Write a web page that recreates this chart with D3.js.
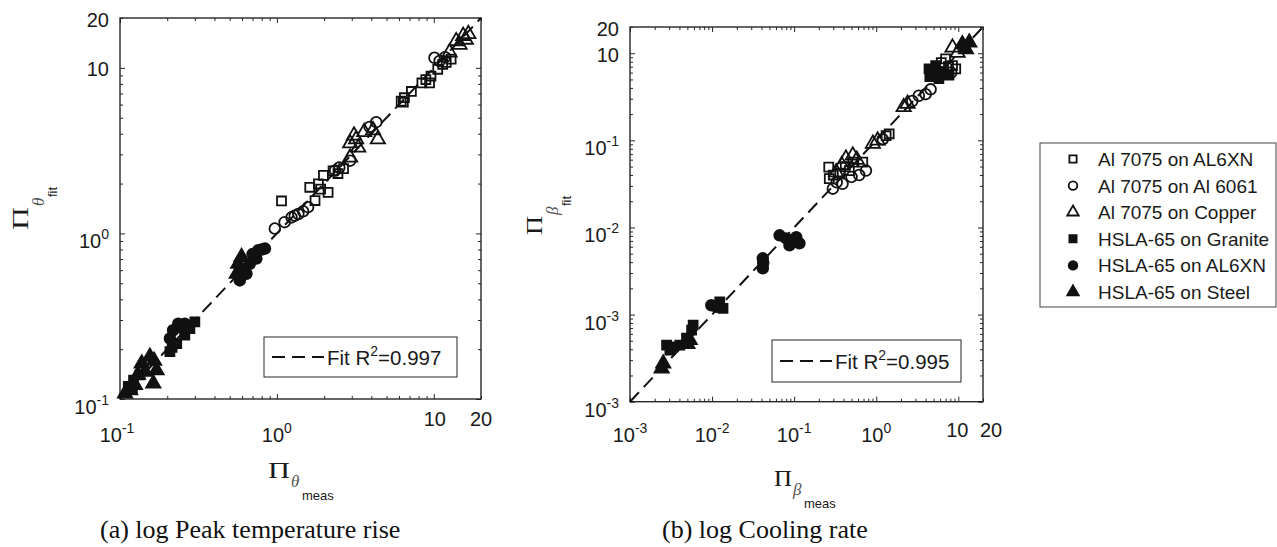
<!DOCTYPE html>
<html>
<head>
<meta charset="utf-8">
<script src="https://cdn.jsdelivr.net/npm/d3@7"></script>
<style>
body { margin: 0; background: #fff; }
text { font-family: "Liberation Sans", Arial, sans-serif; fill: #1a1a1a; }
.serif { font-family: "Liberation Serif", "Times New Roman", serif; }
</style>
</head>
<body>
<svg id="fig" width="1277" height="547"></svg>
<script>

// series names / marker styles (same order in both panels)
var seriesNames = ["Al 7075 on AL6XN", "Al 7075 on Al 6061", "Al 7075 on Copper",
                   "HSLA-65 on Granite", "HSLA-65 on AL6XN", "HSLA-65 on Steel"];
var seriesShapes = ["square", "circle", "triangle", "square", "circle", "triangle"];
var seriesFilled = [false, false, false, true, true, true];

// (a) peak temperature rise, [meas, fit]
var thetaAl6XN = [[1.07,1.57],[1.62,1.90],[1.84,1.99],[2.12,1.77],[1.75,1.58],[1.98,2.24],[2.28,2.39],
  [2.66,2.46],[2.45,2.30],[1.9,1.85],[6.2,6.3],[6.5,6.6],[7.2,7.2],[8.4,8.1],[8.9,8.5],[9.6,8.9],[9.4,8.1],
  [10.6,9.8],[11.4,10.5],[12.9,11.3],[12.0,10.8],[6.4,6.2]];
var thetaAl6061 = [[0.97,1.07],[1.12,1.17],[1.24,1.25],[1.30,1.28],[1.37,1.31],[1.47,1.36],[1.58,1.44],
  [2.35,2.40],[2.50,2.50],[2.93,2.75],[3.9,4.4],[4.3,4.7],[10.1,11.5],[10.9,11.0],[11.8,11.6]];
var thetaCopper = [[2.93,2.87],[2.93,3.5],[3.2,3.7],[3.6,4.1],[4.1,4.2],[4.4,3.7],[3.3,3.3],[3.1,3.9],
  [12.6,12.4],[13.9,14.5],[14.6,13.8],[15.4,15.6],[16.6,16.0],[16.0,14.8]];
var thetaGranite = [[0.113,0.119],[0.122,0.130],[0.134,0.140],[0.208,0.193],[0.23,0.216],[0.259,0.243],
  [0.279,0.266],[0.30,0.292],[0.215,0.205],[0.12,0.115]];
var thetaHslaAL6XN = [[0.208,0.232],[0.218,0.26],[0.235,0.285],[0.259,0.285],[0.245,0.27],[0.58,0.52],
  [0.64,0.571],[0.672,0.655],[0.74,0.705],[0.76,0.79],[0.84,0.81],[0.80,0.80],[0.70,0.75],[0.62,0.61]];
var thetaSteel = [[0.1076,0.108],[0.116,0.113],[0.1246,0.1214],[0.1375,0.164],[0.1443,0.146],[0.155,0.18],
  [0.163,0.124],[0.171,0.149],[0.165,0.17],[0.13,0.14],[0.555,0.571],[0.567,0.655],[0.595,0.72]];

// (b) cooling rate, [meas, fit]
var betaAl6XN = [[0.264,0.492],[0.268,0.364],[0.47,0.45],[0.518,0.563],[0.685,0.563],[0.36,0.42],
  [0.30,0.40],[0.42,0.50],[1.32,1.13],[1.44,1.19],[7.0,8.6],[8.5,7.2],[9.3,6.6],[5.5,6.2],[7.6,7.0],[6.2,7.8]];
var betaAl6061 = [[0.296,0.279],[0.389,0.317],[0.62,0.40],[0.75,0.45],[0.5,0.38],[0.33,0.33],[1.2,1.03],
  [2.75,2.83],[3.3,3.25],[4.0,3.39],[4.6,3.85],[8.2,6.0]];
var betaCopper = [[0.325,0.43],[0.428,0.617],[0.518,0.67],[0.58,0.6],[0.38,0.52],[0.91,0.915],[1.04,0.995],
  [2.16,2.41],[2.41,2.63],[8.5,11.6],[9.8,10.1]];
var betaGranite = [[0.00279,0.00446],[0.00306,0.00392],[0.00336,0.00426],[0.00405,0.00446],
  [0.00488,0.00536],[0.00563,0.00663],[0.00588,0.00755],[0.0136,0.0118],[0.0124,0.0140],
  [4.4,6.6],[5.3,7.2],[4.8,5.8],[6.4,6.0],[7.7,5.6],[5.8,5.1],[4.5,5.4]];
var betaHslaAL6XN = [[0.0098,0.0128],[0.0113,0.0123],[0.0415,0.0442],[0.0415,0.034],[0.042,0.039],
  [0.0665,0.0812],[0.080,0.0748],[0.0877,0.0624],[0.106,0.0773],[0.116,0.0658]];
var betaSteel = [[0.00243,0.00241],[0.00254,0.00275],[0.00535,0.0051],[0.0050,0.0046],
  [11.2,12.7],[12.4,11.1],[13.6,13.3]];

// axis ranges, ticks and labels
var thetaDomain = [0.1, 20];
var thetaTicks = [0.1, 1, 10, 20];
var thetaXLabels = ["10^-1", "10^0", "10", "20"];
var thetaYLabels = ["10^-1", "10^0", "10", "20"];
var betaDomain = [0.001, 20];
var betaTicks = [0.001, 0.01, 0.1, 1, 10, 20];
var betaXLabels = ["10^-3", "10^-2", "10^-1", "10^0", "10", "20"];
var betaYLabels = ["10^-3", "10^-3", "10^-2", "10^-1", "10", "20"];
var fitR2 = ["0.997", "0.995"];

var svg = d3.select("#fig");

var shapes = {square: d3.symbolSquare, circle: d3.symbolCircle, triangle: d3.symbolTriangle};
var shapeSize = {square: 80, circle: 90, triangle: 88};

function marker(sel, i, k){
  var s = seriesShapes[i];
  sel.attr("d", d3.symbol().type(shapes[s]).size(shapeSize[s] * (k || 1))())
    .attr("fill", seriesFilled[i] ? "#111" : "none")
    .attr("stroke", "#111")
    .attr("stroke-width", 1.8)
    .attr("stroke-linejoin", "miter");
}

// "10^-1" -> text with superscript
function tickText(g, str, px, py, anchor, offs){
  var p = str.split("^");
  var t = g.append("text").attr("x", px).attr("text-anchor", anchor)
    .style("font-size", "20px");
  if (p.length > 1) {
    t.attr("y", py + offs.sup);
    t.append("tspan").text(p[0]);
    t.append("tspan").attr("dy", -9).style("font-size", "14px").text(p[1]);
  } else {
    t.attr("y", py + offs.plain).text(p[0]);
  }
}

function panel(cfg){
  var g = svg.append("g");
  var f = cfg.frame;
  var x = d3.scaleLog().domain(cfg.domain).range([f[0], f[2]]);
  var y = d3.scaleLog().domain(cfg.domain).range([f[3], f[1]]);

  var all = x.ticks().filter(function(t){ return t <= cfg.domain[1] * 1.0001; });
  var major = all.filter(function(t){ return Math.abs(Math.log10(t) - Math.round(Math.log10(t))) < 1e-9; });
  var minor = all.filter(function(t){ return major.indexOf(t) < 0; });

  function ticks(axisFn, scale, vals, len, tr){
    var a = g.append("g").attr("transform", tr)
      .call(axisFn(scale).tickValues(vals).tickSize(-len).tickFormat(""));
    a.select(".domain").remove();
    a.selectAll("line").attr("stroke", "#262626").attr("stroke-width", 1);
  }
  [[minor, 3], [major, 5]].forEach(function(m){
    ticks(d3.axisBottom, x, m[0], m[1], "translate(0," + f[3] + ")");
    ticks(d3.axisTop, x, m[0], m[1], "translate(0," + f[1] + ")");
    ticks(d3.axisLeft, y, m[0], m[1], "translate(" + f[0] + ",0)");
    ticks(d3.axisRight, y, m[0], m[1], "translate(" + f[2] + ",0)");
  });

  g.append("rect").attr("x", f[0]).attr("y", f[1])
    .attr("width", f[2] - f[0]).attr("height", f[3] - f[1])
    .attr("fill", "none").attr("stroke", "#262626").attr("stroke-width", 1.4);

  // tick labels
  cfg.ticks.forEach(function(t, i){
    tickText(g, cfg.xLabels[i], x(t) + cfg.xNudge[i], f[3], "middle", cfg.xOff);
    tickText(g, cfg.yLabels[i], f[0] - 11, y(t), "end", {sup: 15, plain: 8.5});
  });

  // 1:1 fit line
  g.append("path")
    .datum(cfg.domain)
    .attr("d", d3.line().x(function(d){ return x(d); }).y(function(d){ return y(d); }))
    .attr("fill", "none").attr("stroke", "#111").attr("stroke-width", 2)
    .attr("stroke-dasharray", "13,7");

  // points
  cfg.series.forEach(function(data, i){
    g.append("g").selectAll("path").data(data).enter().append("path")
      .attr("transform", function(d){ return "translate(" + x(d[0]) + "," + y(d[1]) + ")"; })
      .call(marker, i);
  });

  // fit legend
  var b = cfg.fitBox;
  g.append("rect").attr("x", b[0]).attr("y", b[1]).attr("width", b[2]).attr("height", b[3])
    .attr("fill", "#fff").attr("stroke", "#262626").attr("stroke-width", 1);
  var ly = b[1] + b[3] / 2;
  g.append("line").attr("x1", b[0] + 8).attr("x2", b[0] + 60).attr("y1", ly).attr("y2", ly)
    .attr("stroke", "#111").attr("stroke-width", 2).attr("stroke-dasharray", "13,7");
  var ft = g.append("text").attr("x", b[0] + 63).attr("y", ly + 8).style("font-size", "20.5px");
  ft.append("tspan").text("Fit R");
  ft.append("tspan").attr("dy", -9).style("font-size", "14px").text("2");
  ft.append("tspan").attr("dy", 9).text("=" + cfg.r2);

  // axis titles
  var xl = cfg.xTitle;
  g.append("text").attr("class", "serif").attr("x", xl[0]).attr("y", xl[1])
    .attr("textLength", xl[2]).attr("lengthAdjust", "spacingAndGlyphs")
    .style("font-size", "24px").text("\u03A0");
  g.append("text").attr("class", "serif").attr("x", xl[0] + xl[2] + 1).attr("y", xl[1] + 9)
    .style("font-size", "17px").style("font-style", "italic").style("fill", "#555").text(cfg.sym);
  g.append("text").attr("x", xl[0] + xl[2] + 12).attr("y", xl[1] + 22)
    .style("font-size", "13px").text("meas");

  var yl = cfg.yTitle;
  var yg = g.append("g").attr("transform", "translate(" + yl[0] + "," + yl[1] + ") rotate(-90)");
  yg.append("text").attr("class", "serif").attr("x", 0).attr("y", 0)
    .attr("textLength", yl[2]).attr("lengthAdjust", "spacingAndGlyphs")
    .style("font-size", "24px").text("\u03A0");
  yg.append("text").attr("class", "serif").attr("x", yl[2] + 1).attr("y", 16)
    .style("font-size", "17px").style("font-style", "italic").style("fill", "#555").text(cfg.sym);
  yg.append("text").attr("x", yl[2] + 10).attr("y", 29)
    .style("font-size", "13px").text("fit");

  // caption
  svg.append("text").attr("class", "serif").attr("x", cfg.caption[0]).attr("y", 538)
    .style("font-size", "26px").style("fill", "#111").text(cfg.caption[1]);
}

panel({
  frame: [120, 18, 481, 399],
  domain: thetaDomain, ticks: thetaTicks,
  xLabels: thetaXLabels, yLabels: thetaYLabels,
  xOff: {plain: 27, sup: 43}, xNudge: [-3, 0, 1, 0],
  series: [thetaAl6XN, thetaAl6061, thetaCopper, thetaGranite, thetaHslaAL6XN, thetaSteel],
  r2: fitR2[0], fitBox: [264, 337, 193, 40],
  sym: "\u03B8", xTitle: [268, 478, 22], yTitle: [28, 230, 23],
  caption: [100, "(a) log Peak temperature rise"]
});

panel({
  frame: [630, 27, 983, 401.7],
  domain: betaDomain, ticks: betaTicks,
  xLabels: betaXLabels, yLabels: betaYLabels,
  xOff: {plain: 35, sup: 40.5}, xNudge: [0, 0, 0, 0, -1, 8],
  series: [betaAl6XN, betaAl6061, betaCopper, betaGranite, betaHslaAL6XN, betaSteel],
  r2: fitR2[1], fitBox: [772, 340, 189, 42],
  sym: "\u03B2", xTitle: [774, 486, 18], yTitle: [542, 235, 19],
  caption: [662, "(b) log Cooling rate"]
});

// series legend
var leg = svg.append("g");
leg.append("rect").attr("x", 1040).attr("y", 143).attr("width", 236).attr("height", 164)
  .attr("fill", "#fff").attr("stroke", "#444").attr("stroke-width", 1);
var rowY = d3.scalePoint().domain(seriesNames).range([159, 292]);
seriesNames.forEach(function(name, i){
  leg.append("path").attr("transform", "translate(1073," + rowY(name) + ")").call(marker, i, 0.65);
  leg.append("text").attr("x", 1098).attr("y", rowY(name) + 7)
    .style("font-size", "19px").text(name);
});

</script>
</body>
</html>
